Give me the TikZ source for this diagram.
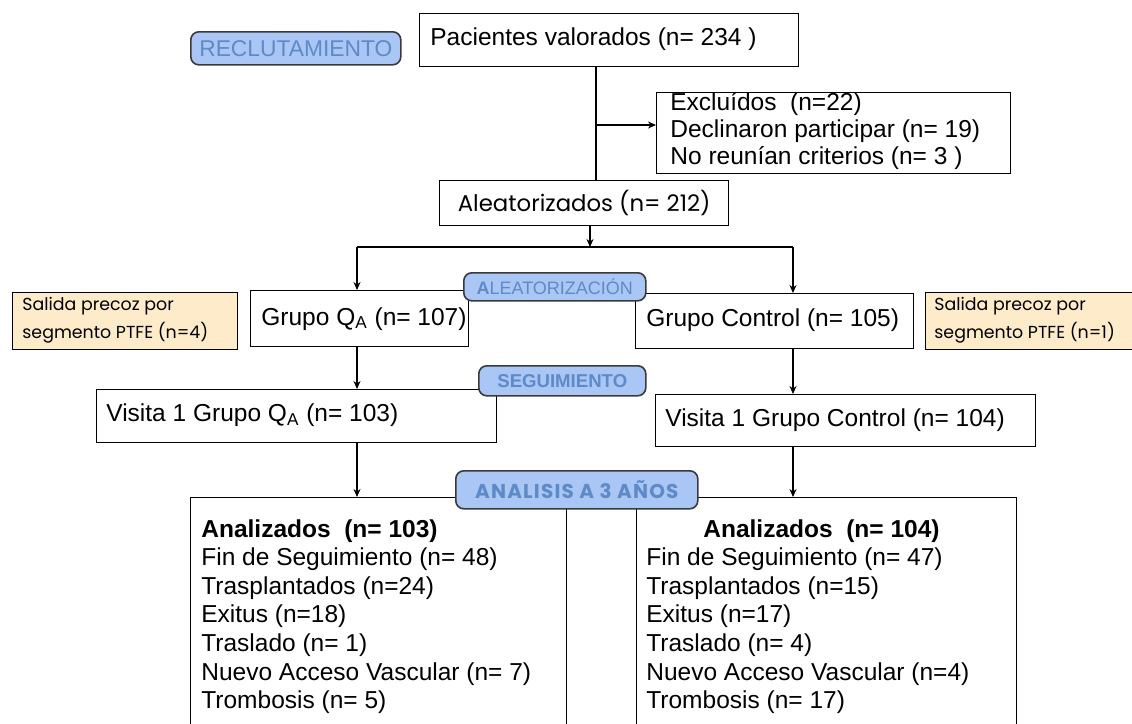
\documentclass[tikz,border=0pt]{standalone}
\usepackage{fontspec}
\setmainfont{Liberation Sans}
\newfontfamily\comic{Poppins}
\newfontfamily\comicsp[LetterSpace=6]{Poppins}
\usetikzlibrary{arrows.meta}
\definecolor{lblfill}{HTML}{A9C6F5}
\definecolor{lbltext}{HTML}{5E8AC7}
\definecolor{bordc}{HTML}{3A3A3A}
\definecolor{beige}{HTML}{FDEBC9}
\begin{document}
\begin{tikzpicture}[x=0.5pt,y=-0.5pt,
  box/.style={draw=black, line width=0.7pt, fill=white, rectangle, inner sep=0pt, anchor=north west},
  lbl/.style={draw=bordc, line width=0.8pt, fill=lblfill, rounded corners=4pt, inner sep=0pt, anchor=north west, text=lbltext},
  note/.style={draw=black, line width=0.7pt, fill=beige, inner sep=0pt, anchor=north west},
  txt/.style={anchor=west, inner sep=0pt, align=left, font=\fontsize{12.25}{13.5}\selectfont},
  bigtxt/.style={anchor=north west, inner sep=0pt, align=left, font=\fontsize{12.25}{14.3}\selectfont},
  ctxt/.style={anchor=west, inner sep=0pt, align=left, font=\comic\fontsize{8.7}{14}\selectfont},
  arr/.style={-{Stealth[length=4pt,width=3.5pt]}, line width=0.6pt},
  ln/.style={line width=0.6pt}]
\clip (0,0) rectangle (1132,724);
\fill[white] (0,0) rectangle (1132,724);

% boxes
\node[box, minimum width=189.5pt, minimum height=26.5pt] (pac) at (419,13) {};
\node[txt] (pact) at (430,39.5) {Pacientes valorados (n= 234 )};

\node[box, minimum width=177pt, minimum height=40.5pt] (excl) at (656,92) {};
\node[txt] (exclt) at (670,131) {Excluídos\ \ (n=22)\\Declinaron participar (n= 19)\\No reunían criterios (n= 3 )};

\node[box, minimum width=144.5pt, minimum height=22.5pt, font=\comic\fontsize{11.4}{12}\selectfont] (alea) at (439,180) {Aleatorizados (n= 212)};

\node[box, minimum width=109pt, minimum height=28pt] (qa) at (250,290) {};
\node[txt] (qat) at (261,319) {Grupo Q\textsubscript{A} (n= 107)};

\node[box, minimum width=139pt, minimum height=27.5pt] (ctrl) at (635,293) {};
\node[txt] (ctrlt) at (646,320.5) {Grupo Control (n= 105)};

\node[note, minimum width=112.5pt, minimum height=28.5pt] (salL) at (12,292) {};
\node[ctxt] (salLt) at (22,320.5) {Salida precoz por\\segmento PTFE (n=4)};

\node[note, minimum width=115pt, minimum height=28.5pt] (salR) at (925,292) {};
\node[ctxt] (salRt) at (934,320.5) {Salida precoz por\\segmento PTFE (n=1)};

\node[box, minimum width=200pt, minimum height=26.5pt] (visQA) at (96,389) {};
\node[txt] (visQAt) at (106,415.5) {Visita 1 Grupo Q\textsubscript{A} (n= 103)};

\node[box, minimum width=190pt, minimum height=26pt] (visC) at (655,394) {};
\node[txt] (visCt) at (665,420) {Visita 1 Grupo Control (n= 104)};

\node[box, minimum width=188pt, minimum height=130pt] (bl) at (190,497) {};
\node[bigtxt] (blt) at (201,519) {\textbf{Analizados\ \ (n= 103)}\\Fin de Seguimiento (n= 48)\\Trasplantados (n=24)\\Exitus (n=18)\\Traslado (n= 1)\\Nuevo Acceso Vascular (n= 7)\\Trombosis (n= 5)};

\node[box, minimum width=190pt, minimum height=130pt] (br) at (636,497) {};
\node[bigtxt] (brt) at (646,519) {\hspace*{28.5pt}\textbf{Analizados\ \ (n= 104)}\\Fin de Seguimiento (n= 47)\\Trasplantados (n=15)\\Exitus (n=17)\\Traslado (n= 4)\\Nuevo Acceso Vascular (n=4)\\Trombosis (n= 17)};

% connectors
\coordinate (stem) at (596,125);
\draw[ln] (stem |- pac.south) -- (stem |- alea.north);
\draw[arr] (stem) -- (stem -| excl.west);

\coordinate (split) at (590,247);
\coordinate (jl) at (357,247);
\coordinate (jr) at (793,247);
\draw[arr] (split |- alea.south) -- (split);
\draw[ln] (jl) -- (jr);
\draw[arr] (jl) -- (jl |- qa.north);
\draw[arr] (jr) -- (jr |- ctrl.north);
\draw[arr] (jl |- qa.south) -- (jl |- visQA.north);
\draw[arr] (jr |- ctrl.south) -- (jr |- visC.north);
\draw[arr] (jl |- visQA.south) -- (jl |- bl.north);
\draw[arr] (jr |- visC.south) -- (jr |- br.north);

% labels
\node[lbl, minimum width=105pt, minimum height=16.5pt, font=\fontsize{11.4}{13}\selectfont] (reclut) at (190,31) {RECLUTAMIENTO};
\node[lbl, minimum width=91pt, minimum height=14pt, font=\fontsize{9}{10}\selectfont] (aleat) at (463,272) {\textbf{A}LEATORIZACIÓN};
\node[lbl, minimum width=83.5pt, minimum height=15pt, font=\bfseries\fontsize{9.3}{10}\selectfont] (seg) at (478,365) {SEGUIMIENTO};
\node[lbl, minimum width=121pt, minimum height=19pt, font=\comicsp\bfseries\fontsize{10}{11}\selectfont] (anal) at (455,470) {ANALISIS A 3 AÑOS};
\end{tikzpicture}
\end{document}
